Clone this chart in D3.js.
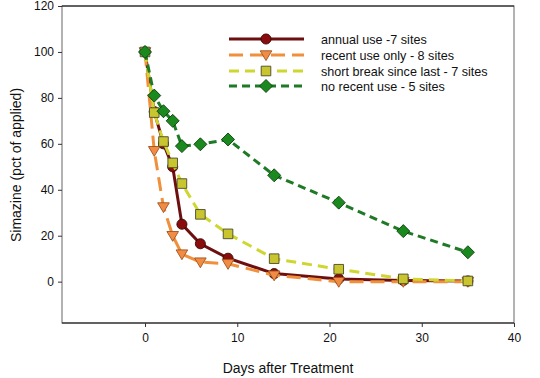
<!DOCTYPE html>
<html lang="en">
  <head>
    <meta charset="utf-8">
    <title>Simazine</title>
    <script src="https://d3js.org/d3.v7.min.js"></script>
    <style>
      body { margin: 0; background: #fff; }
      text { font-family: "Liberation Sans", Arial, sans-serif; fill: #111; }
    </style>
  </head>
  <body>
    <script>
      // days sampled after treatment
      var days = [0, 1, 2, 3, 4, 6, 9, 14, 21, 28, 35];

      var annualUse = [100, 74, 60, 50, 25, 16.5, 10.2, 3.5, 1.2, 0.5, 0.3];
      var recentUse = [100, 57, 32.5, 20, 12, 8.5, 7.8, 2.8, 0, 0, 0];
      var shortBreak = [100, 73.6, 61, 51.7, 42.7, 29.3, 20.8, 10, 5.4, 1.2, 0.3];
      var noRecent = [100, 81, 74.2, 70, 59, 59.8, 61.9, 46.3, 34.4, 22, 12.8];

      var seriesNames = ["annual use -7 sites", "recent use only - 8 sites",
                         "short break since last - 7 sites", "no recent use - 5 sites"];
      var xTicks = [0, 10, 20, 30, 40];
      var yTicks = [0, 20, 40, 60, 80, 100, 120];

      var w = 540, h = 378;
      var pl = 62, pr = 514, pt = 6, pb = 323;

      var x = d3.scaleLinear().domain([-9, 40]).range([pl, pr]);
      var y = d3.scaleLinear().domain([-18, 120]).range([pb, pt]);

      var series = [
        {name: seriesNames[0], values: annualUse, line: "#6e0f0f", fill: "#8b0c0c", stroke: "#3a0606",
         width: 3, dash: null, shape: "circle"},
        {name: seriesNames[1], values: recentUse, line: "#f0903c", fill: "#f08c44", stroke: "#a0521c",
         width: 3, dash: "14,7", shape: "tri"},
        {name: seriesNames[2], values: shortBreak, line: "#cfd630", fill: "#c8c52e", stroke: "#4a4a2a",
         width: 3, dash: "10,6", shape: "square"},
        {name: seriesNames[3], values: noRecent, line: "#1f7a26", fill: "#1a8a1e", stroke: "#0d3d0d",
         width: 3, dash: "8,5", shape: "diamond"}
      ];

      var svg = d3.select("body").append("svg")
        .attr("width", w)
        .attr("height", h);

      // frame
      svg.append("rect")
        .attr("x", pl).attr("y", pt)
        .attr("width", pr - pl).attr("height", pb - pt)
        .attr("fill", "none").attr("stroke", "#666").attr("stroke-width", 1);
      svg.append("line").attr("x1", pl).attr("x2", pr).attr("y1", pt).attr("y2", pt)
        .attr("stroke", "#111");
      svg.append("line").attr("x1", pl).attr("x2", pr).attr("y1", pb).attr("y2", pb)
        .attr("stroke", "#111");

      var xAxis = d3.axisBottom(x).tickValues(xTicks).tickSize(4).tickPadding(6);
      var yAxis = d3.axisLeft(y).tickValues(yTicks).tickSize(4).tickPadding(4);

      var gx = svg.append("g").attr("transform", "translate(0," + pb + ")").call(xAxis);
      var gy = svg.append("g").attr("transform", "translate(" + pl + ",0)").call(yAxis);
      [gx, gy].forEach(function(g){
        g.select(".domain").remove();
        g.selectAll("line").attr("stroke", "#333");
        g.selectAll("text").style("font-size", "12px").attr("fill", "#222");
      });

      svg.append("text")
        .attr("x", 288).attr("y", 373)
        .attr("text-anchor", "middle")
        .style("font-size", "14px")
        .text("Days after Treatment");

      svg.append("text")
        .attr("transform", "translate(21,165) rotate(-90)")
        .attr("text-anchor", "middle")
        .style("font-size", "14px")
        .text("Simazine (pct of applied)");

      var line = d3.line()
        .x(function(d){ return x(d[0]); })
        .y(function(d){ return y(d[1]); });

      function marker(g, s){
        var d;
        if (s.shape === "tri") {
          d = "M-5.8,-4.2L5.8,-4.2L0,5.6Z";
        } else if (s.shape === "diamond") {
          d = "M0,-6.5L6.5,0L0,6.5L-6.5,0Z";
        } else if (s.shape === "square") {
          d = "M-4.8,-4.8L4.8,-4.8L4.8,4.8L-4.8,4.8Z";
        } else {
          d = d3.symbol().type(d3.symbolCircle).size(80)();
        }
        g.append("path")
          .attr("d", d)
          .attr("fill", s.fill).attr("stroke", s.stroke).attr("stroke-width", 0.9);
      }

      // series drawn in order, later ones on top
      series.forEach(function(s){
        var pts = days.map(function(d, j){ return [d, s.values[j]]; });
        svg.append("path")
          .datum(pts)
          .attr("d", line)
          .attr("fill", "none")
          .attr("stroke", s.line)
          .attr("stroke-width", s.width)
          .attr("stroke-dasharray", s.dash);
        days.forEach(function(d, j){
          var g = svg.append("g")
            .attr("transform", "translate(" + x(d) + "," + y(s.values[j]) + ")");
          marker(g, s);
        });
      });

      // legend
      var legY = [39, 55, 71, 86];
      series.forEach(function(s, i){
        var g = svg.append("g").attr("transform", "translate(0," + legY[i] + ")");
        g.append("line")
          .attr("x1", 229).attr("x2", 304)
          .attr("stroke", s.line).attr("stroke-width", s.width)
          .attr("stroke-dasharray", s.dash);
        var m = g.append("g").attr("transform", "translate(266,0)");
        marker(m, s);
        g.append("text")
          .attr("x", 321).attr("y", 4.5)
          .style("font-size", "12.6px")
          .text(s.name);
      });
    </script>
  </body>
</html>
